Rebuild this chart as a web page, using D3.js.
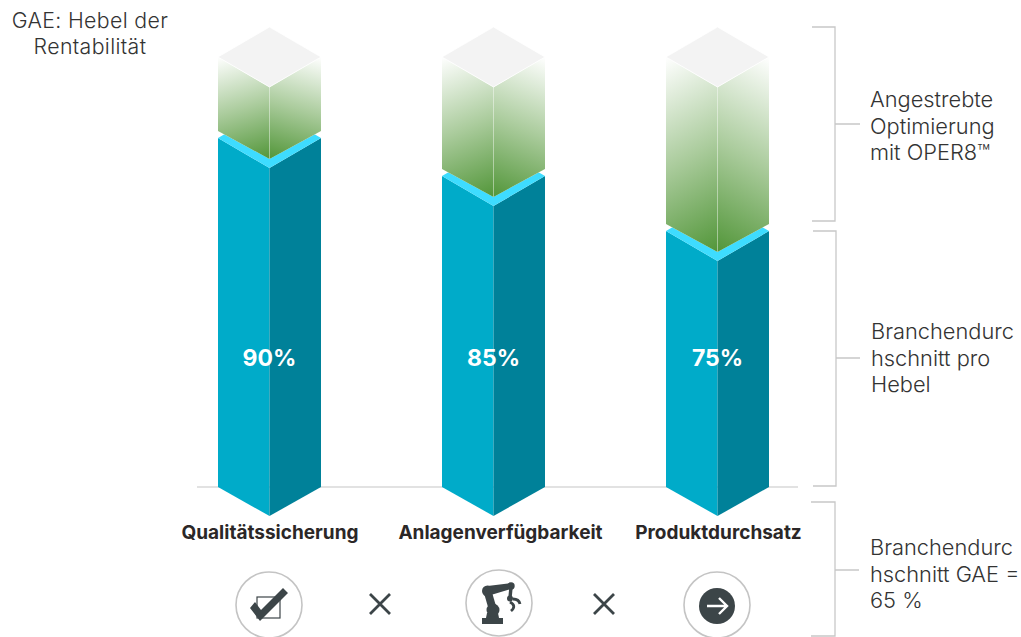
<!DOCTYPE html>
<html lang="de">
<head>
<meta charset="utf-8">
<script src="https://cdn.jsdelivr.net/npm/d3@7"></script>
<style>
  html, body { margin: 0; padding: 0; background: #fff; }
  svg { display: block; }
  text { font-family: Inter, Lato, sans-serif; }
</style>
</head>
<body>
<div id="chart"></div>
<script>
// Werte je Hebel
const categories = ["Qualitätssicherung", "Anlagenverfügbarkeit", "Produktdurchsatz"];
const averages = [90, 85, 75];
const targets = [100, 100, 100];
const levelStops = [0, 75, 85, 90, 100];
const levelPixels = [487, 231, 176, 138, 57];
const titleLines = ["GAE: Hebel der", "Rentabilität"];
const bracketLabels = [
  ["Angestrebte", "Optimierung", "mit OPER8™"],
  ["Branchendurc", "hschnitt pro", "Hebel"],
  ["Branchendurc", "hschnitt GAE =", "65 %"]
];

const width = 1021, height = 637;
const svg = d3.select("#chart").append("svg").attr("width", width).attr("height", height);
const defs = svg.append("defs");

const x = d3.scalePoint().domain(categories).range([269.5, 717.5]);
const y = d3.scaleLinear().domain(levelStops).range(levelPixels);
const halfW = 51.5, rise = 30;
const poly = d3.line();

// Verlauf der Optimierungs-Quader: weiss oben, gruen zur Vorderkante hin
[["fadeLeft", 0, 0, 0.169, 1.125], ["fadeRight", 1, 0, 0.831, 1.125]].forEach(([id, x1, y1, x2, y2]) => {
  const g = defs.append("linearGradient").attr("id", id)
    .attr("x1", x1).attr("y1", y1).attr("x2", x2).attr("y2", y2);
  g.append("stop").attr("offset", 0).attr("stop-color", "#ffffff");
  g.append("stop").attr("offset", 0.5).attr("stop-color", "#abcc9d");
  g.append("stop").attr("offset", 1).attr("stop-color", "#529639");
});

// Grundlinie
svg.append("line").attr("x1", 197).attr("x2", 798).attr("y1", y(0)).attr("y2", y(0))
  .attr("stroke", "#d8d8d8").attr("stroke-width", 1.3);

// Saeulen
const rows = categories.map((c, i) => ({ c, avg: averages[i], target: targets[i] }));
const labelShift = [0.5, 7, 1];
const bar = svg.selectAll("g.bar").data(rows).join("g").attr("class", "bar");

bar.each(function (d, i) {
  const g = d3.select(this);
  const cx = x(d.c), l = cx - halfW, r = cx + halfW;
  const top = y(d.avg), base = y(0), roof = y(d.target);
  const gapSide = 7, gapFront = 9;

  g.append("path").attr("fill", "#00abc9")
    .attr("d", poly([[l, top], [cx, top + rise], [cx, base + rise - 1], [l, base]]) + "Z");
  g.append("path").attr("fill", "#008199")
    .attr("d", poly([[cx, top + rise], [r, top], [r, base], [cx, base + rise - 1]]) + "Z");
  g.append("path").attr("fill", "#3edcff")
    .attr("d", poly([[l, top], [cx, top - rise], [r, top], [cx, top + rise]]) + "Z");

  const bottomSide = top - gapSide, bottomFront = top + rise - gapFront;
  g.append("path").attr("fill", "#fff")
    .attr("d", poly([[l, roof], [cx, roof + rise], [r, roof], [r, bottomSide], [cx, bottomFront], [l, bottomSide]]) + "Z");
  g.append("path").attr("fill", "url(#fadeLeft)")
    .attr("d", poly([[l, roof], [cx, roof + rise], [cx, bottomFront], [l, bottomSide]]) + "Z");
  g.append("path").attr("fill", "url(#fadeRight)")
    .attr("d", poly([[cx, roof + rise], [r, roof], [r, bottomSide], [cx, bottomFront]]) + "Z");
  g.append("line").attr("x1", cx).attr("x2", cx).attr("y1", roof + rise).attr("y2", bottomFront)
    .attr("stroke", "#ffffff").attr("stroke-opacity", 0.25);
  g.append("path").attr("fill", "#f3f3f3").attr("stroke", "#ffffff").attr("stroke-width", 0.8)
    .attr("d", poly([[l, roof], [cx, roof - rise], [r, roof], [cx, roof + rise]]) + "Z");

  g.append("text").attr("x", cx).attr("y", 366).attr("text-anchor", "middle")
    .attr("fill", "#fff").attr("font-size", 23).attr("font-weight", 700).text(d.avg + "%");
  g.append("text").attr("x", cx + labelShift[i]).attr("y", 539)
    .attr("text-anchor", "middle").attr("fill", "#2b2727")
    .attr("font-size", 19).attr("font-weight", 700).text(d.c);
});

// Titel links oben
svg.append("text").attr("text-anchor", "middle").attr("fill", "#333")
  .attr("font-size", 21.3).attr("font-weight", 300).attr("letter-spacing", 0.35)
  .selectAll("tspan").data(titleLines).join("tspan")
  .attr("x", 90).attr("y", (d, i) => 28 + i * 26).text(d => d);

// Klammern rechts mit Beschriftung
const brackets = [
  { x0: 812, vx: 835, y0: 27, y1: 221, tick: 124, tx: 860, labelX: 870, labelY: 107 },
  { x0: 813, vx: 836, y0: 231, y1: 486, tick: 358, tx: 860, labelX: 871, labelY: 339 },
  { x0: 811, vx: 835, y0: 502, y1: 636, tick: 570, tx: 859, labelX: 870, labelY: 555 }
];
brackets.forEach((b, i) => {
  svg.append("path").attr("fill", "none").attr("stroke", "#c8c8c8").attr("stroke-width", 1.3)
    .attr("d", `M${b.x0},${b.y0}H${b.vx}V${b.y1}H${b.x0}M${b.vx},${b.tick}H${b.tx}`);
  svg.append("text").attr("fill", "#333").attr("font-size", 21.8).attr("font-weight", 300)
    .selectAll("tspan").data(bracketLabels[i]).join("tspan")
    .attr("x", b.labelX).attr("y", (d, k) => b.labelY + k * 26.5).text(d => d);
});

// Symbole unter den Saeulen
const iconInk = "#3c4548", ring = "#c4c4c4";
const iconRow = [[269, 605], [499, 603], [717, 605]];
svg.selectAll("circle.ring").data(iconRow).join("circle").attr("class", "ring")
  .attr("cx", d => d[0]).attr("cy", d => d[1]).attr("r", 33)
  .attr("fill", "#fff").attr("stroke", ring).attr("stroke-width", 1.6);

// Haken im Kaestchen
const check = svg.append("g").attr("transform", "translate(269,605)");
check.append("rect").attr("x", -12).attr("y", -8).attr("width", 23).attr("height", 21)
  .attr("fill", "none").attr("stroke", iconInk).attr("stroke-width", 1.2);
check.append("path").attr("fill", iconInk)
  .attr("d", "M-19,3 L-14,-3 L-8,5 L14,-17 L19,-12 L-9,16 Z");

// Roboterarm
const robot = svg.append("g").attr("transform", "translate(499,603)")
  .attr("fill", iconInk).attr("stroke", iconInk);
robot.append("rect").attr("x", -17).attr("y", 15).attr("width", 21).attr("height", 6).attr("stroke", "none");
robot.append("path").attr("stroke", "none").attr("d", "M-13,15 L-12,10 H-1 L0,15 Z");
robot.append("path").attr("stroke-width", 8).attr("fill", "none").attr("d", "M-6,7 L-11.5,-12");
robot.append("circle").attr("cx", -6).attr("cy", 7).attr("r", 6.5).attr("stroke", "none");
robot.append("path").attr("stroke", "none").attr("d", "M-11.5,-17 L12,-20 V-14 L-11.5,-7 Z");
robot.append("circle").attr("cx", -11.5).attr("cy", -12).attr("r", 5.5).attr("stroke", "none");
robot.append("circle").attr("cx", 12).attr("cy", -17).attr("r", 3.7).attr("stroke", "none");
robot.append("path").attr("stroke-width", 3.4).attr("fill", "none").attr("d", "M12,-16 L11,-5");
robot.append("circle").attr("cx", 11).attr("cy", -4.5).attr("r", 3).attr("stroke", "none");
robot.append("path").attr("stroke-width", 2.8).attr("fill", "none").attr("d", "M11,-1 Q18,3 12,8 M14,-4 Q20,-4 21,1");

// Pfeil auf dunkler Scheibe
const arrow = svg.append("g").attr("transform", "translate(717,606)");
arrow.append("circle").attr("r", 18).attr("fill", iconInk);
arrow.append("path").attr("fill", "none").attr("stroke", "#fff").attr("stroke-width", 2.4)
  .attr("d", "M-10,0H9M2,-8L10,0L2,8");

// Malzeichen zwischen den Symbolen
svg.selectAll("path.times").data([380, 604]).join("path").attr("class", "times")
  .attr("transform", d => `translate(${d},604)`)
  .attr("fill", "none").attr("stroke", iconInk).attr("stroke-width", 2.8)
  .attr("d", "M-10,-10L10,10M10,-10L-10,10");
</script>
</body>
</html>
